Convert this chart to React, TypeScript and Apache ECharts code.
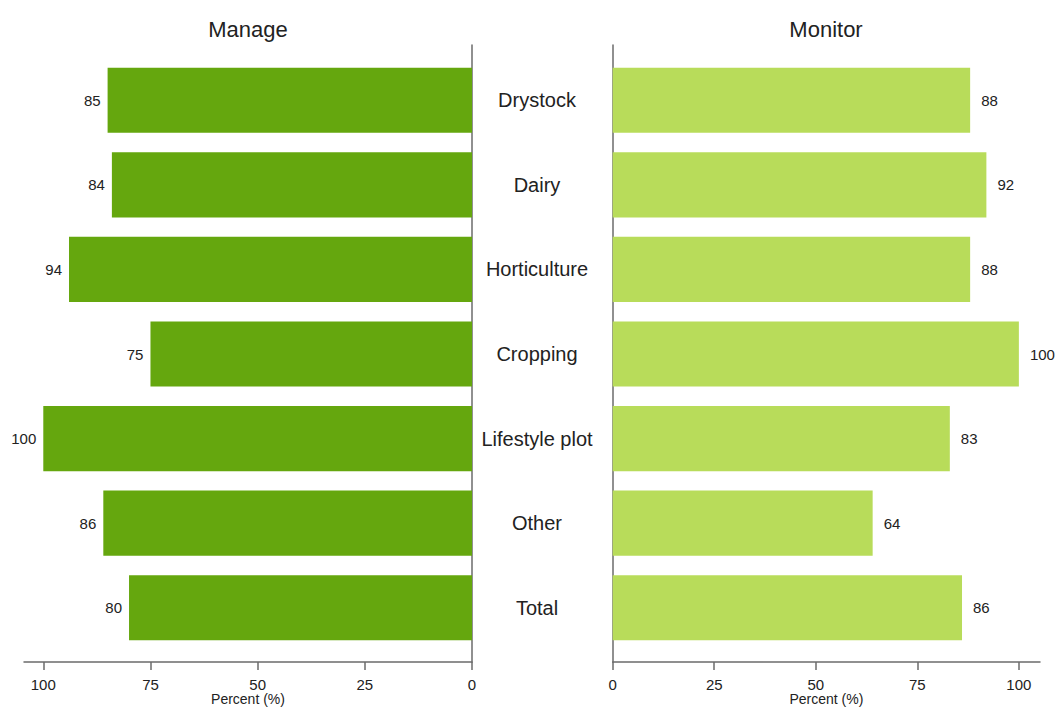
import React, { useEffect, useRef } from "react";
import * as echarts from "echarts";

const categories = ["Drystock", "Dairy", "Horticulture", "Cropping", "Lifestyle plot", "Other", "Total"];
const manageValues = [85, 84, 94, 75, 100, 86, 80];
const monitorValues = [88, 92, 88, 100, 83, 64, 86];
const tickValues = [0, 25, 50, 75, 100];
const panelTitles = ["Manage", "Monitor"];

const FONT = "'Liberation Sans', Arial, sans-serif";
const AXIS_COLOR = "#6b6b6b";
const TEXT_COLOR = "#222";

export default function App() {
  const ref = useRef<HTMLDivElement>(null);
  useEffect(() => {
    document.body.style.margin = "0";
    const chart = echarts.init(ref.current!, null, { renderer: "svg" });
    const xAxisCommon = (gridIndex: number, inverse: boolean, max: number) => ({
      type: "value" as const,
      gridIndex,
      min: 0,
      max,
      inverse,
      offset: 12,
      name: "Percent (%)",
      nameLocation: "middle" as const,
      nameGap: 30,
      nameMoveOverlap: false,
      nameTextStyle: { fontFamily: FONT, fontSize: 14, color: TEXT_COLOR },
      axisLine: { show: true, onZero: false, lineStyle: { color: AXIS_COLOR, width: 1.5 } },
      axisTick: { show: true, length: 8, customValues: tickValues, lineStyle: { color: AXIS_COLOR, width: 1.5 } },
      axisLabel: { customValues: tickValues, margin: 15, fontFamily: FONT, fontSize: 15, color: TEXT_COLOR },
      splitLine: { show: false },
    });
    const titleText = (text: string, x: number) => ({
      type: "text",
      x,
      y: 29,
      style: { text, fontFamily: FONT, fontSize: 22, fill: TEXT_COLOR, align: "center", verticalAlign: "middle" },
    });
    chart.setOption({
      animation: false,
      textStyle: { fontFamily: FONT },
      graphic: [titleText(panelTitles[0], 248), titleText(panelTitles[1], 826)],
      grid: [
        { left: 24, width: 448, top: 58, height: 592, outerBoundsMode: "none" },
        { left: 612.7, width: 427.3, top: 58, height: 592, outerBoundsMode: "none" },
        { left: 472, width: 140.7, top: 45, height: 617, outerBoundsMode: "none" },
      ],
      xAxis: [
        xAxisCommon(0, true, 104.5),
        xAxisCommon(1, false, 105.2),
        { type: "value", gridIndex: 2, show: false, min: 0, max: 1 },
      ],
      yAxis: [
        {
          type: "category",
          gridIndex: 0,
          data: categories,
          inverse: true,
          position: "right",
          axisLine: { show: false },
          axisTick: { show: false },
          axisLabel: { align: "center", margin: 65, fontFamily: FONT, fontSize: 20, color: TEXT_COLOR },
        },
        {
          type: "category",
          gridIndex: 1,
          data: categories,
          inverse: true,
          axisLine: { show: false },
          axisTick: { show: false },
          axisLabel: { show: false },
        },
        {
          type: "value",
          gridIndex: 2,
          position: "left",
          min: 0,
          max: 1,
          axisLine: { show: true, onZero: false, lineStyle: { color: AXIS_COLOR, width: 1.5 } },
          axisTick: { show: false },
          axisLabel: { show: false },
          splitLine: { show: false },
        },
        {
          type: "value",
          gridIndex: 2,
          position: "right",
          min: 0,
          max: 1,
          axisLine: { show: true, onZero: false, lineStyle: { color: AXIS_COLOR, width: 1.5 } },
          axisTick: { show: false },
          axisLabel: { show: false },
          splitLine: { show: false },
        },
      ],
      series: [
        {
          type: "bar",
          name: "Manage",
          xAxisIndex: 0,
          yAxisIndex: 0,
          data: manageValues,
          barCategoryGap: "23%",
          itemStyle: { color: "#65a70e" },
          label: { show: true, position: "left", distance: 7, fontFamily: FONT, fontSize: 15, color: TEXT_COLOR },
        },
        {
          type: "bar",
          name: "Monitor",
          xAxisIndex: 1,
          yAxisIndex: 1,
          data: monitorValues,
          barCategoryGap: "23%",
          itemStyle: { color: "#b8dc5a" },
          label: { show: true, position: "right", distance: 11, fontFamily: FONT, fontSize: 15, color: TEXT_COLOR },
        },
      ],
    });
    return () => chart.dispose();
  }, []);
  return <div ref={ref} style={{ width: 1058, height: 708 }} />;
}
